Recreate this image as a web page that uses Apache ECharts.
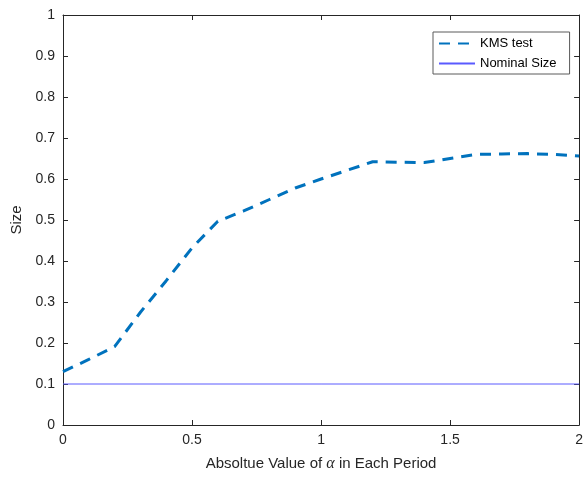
<!DOCTYPE html>
<html>
<head>
<meta charset="utf-8">
<script src="https://cdn.jsdelivr.net/npm/echarts@6/dist/echarts.min.js"></script>
<style>html,body{margin:0;padding:0;background:#fff;}#c{width:586px;height:480px;}</style>
</head>
<body>
<div id="c"></div>
<script>
var alphaValues = [0, 0.1, 0.2, 0.3, 0.4, 0.5, 0.6, 0.7, 0.8, 0.9, 1.0, 1.1, 1.2, 1.3, 1.4, 1.5, 1.6, 1.7, 1.8, 1.9, 2.0];
var kmsSize = [0.130, 0.160, 0.191, 0.275, 0.352, 0.432, 0.497, 0.522, 0.550, 0.578, 0.600, 0.621, 0.642, 0.641, 0.640, 0.650, 0.660, 0.661, 0.662, 0.660, 0.656];
var nominalSize = [0.1, 0.1];
var nominalX = [0, 2];
var xTicks = [0, 0.5, 1, 1.5, 2];
var seriesNames = ['KMS test', 'Nominal Size'];

var chart = echarts.init(document.getElementById('c'), null, {renderer: 'canvas'});
var font = '"Liberation Sans", Arial, Helvetica, sans-serif';
var axisCol = '#262626';
function fmt(v){ return String(Math.round(v*10)/10); }
function fmtX(v){ return String(v); }
var baseAxis = {
  axisLine: {show: true, onZero: false, lineStyle: {color: axisCol, width: 1}},
  axisTick: {show: true, inside: true, length: 5, lineStyle: {color: axisCol}},
  splitLine: {show: false}
};
chart.setOption({
  animation: false,
  backgroundColor: '#fff',
  grid: {left: 63, right: 5, top: 15, bottom: 55, containLabel: false},
  legend: {
    show: true,
    data: seriesNames,
    orient: 'vertical',
    left: 433, top: 32,
    itemWidth: 36, itemHeight: 10, itemGap: 7,
    padding: [5, 13, 4, 5],
    borderColor: '#5a5a5a', borderWidth: 1,
    backgroundColor: '#fff',
    itemStyle: {opacity: 0},
    textStyle: {fontFamily: font, fontSize: 13, color: '#000'}
  },
  xAxis: [
    Object.assign({}, baseAxis, {
      type: 'value', min: 0, max: 2, interval: 0.5, position: 'bottom',
      axisLabel: {margin: 8, fontFamily: font, fontSize: 14, color: axisCol, formatter: fmtX},
      name: 'Absoltue Value of {a|α} in Each Period',
      nameLocation: 'middle', nameGap: 31,
      nameTextStyle: {fontFamily: font, fontSize: 15, color: axisCol,
        rich: {a: {fontFamily: '"Liberation Serif", "DejaVu Serif", serif', fontStyle: 'italic', fontSize: 16, color: axisCol}}}
    }),
    Object.assign({}, baseAxis, {
      type: 'value', min: 0, max: 2, interval: 0.5, position: 'top',
      axisLabel: {show: false}
    })
  ],
  yAxis: [
    Object.assign({}, baseAxis, {
      type: 'value', min: 0, max: 1, interval: 0.1, position: 'left',
      axisLabel: {margin: 8, fontFamily: font, fontSize: 14, color: axisCol, formatter: fmt},
      name: 'Size', nameLocation: 'middle', nameGap: 34, nameRotate: 90,
      nameTextStyle: {fontFamily: font, fontSize: 15, color: axisCol}
    }),
    Object.assign({}, baseAxis, {
      type: 'value', min: 0, max: 1, interval: 0.1, position: 'right',
      axisLabel: {show: false}
    })
  ],
  series: [
    {
      name: seriesNames[0], type: 'line', xAxisIndex: 0, yAxisIndex: 0,
      data: alphaValues.map(function(x, i){ return [x, kmsSize[i]]; }),
      showSymbol: false, symbol: 'none', smooth: false,
      lineStyle: {color: '#0072BD', width: 3, type: [11, 8]},
      itemStyle: {color: '#0072BD'}
    },
    {
      name: seriesNames[1], type: 'line', xAxisIndex: 0, yAxisIndex: 0,
      data: nominalX.map(function(x, i){ return [x, nominalSize[i]]; }),
      showSymbol: false, symbol: 'none',
      lineStyle: {color: '#5a5aff', width: 1},
      itemStyle: {color: '#0000ff'}
    }
  ]
});
</script>
</body>
</html>
